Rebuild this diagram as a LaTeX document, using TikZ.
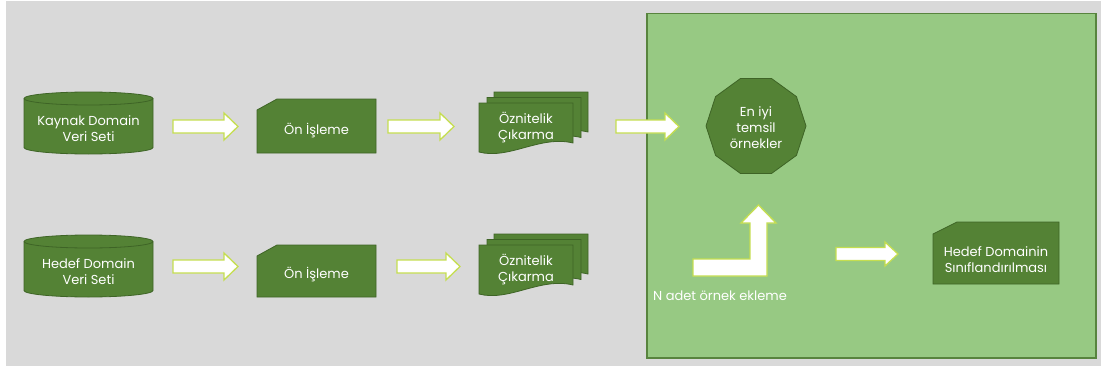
\documentclass[tikz,border=0pt]{standalone}
\usepackage{fontspec}
\setmainfont{Poppins}
\usetikzlibrary{calc,shapes.geometric}
\definecolor{panelgray}{RGB}{217,217,217}
\definecolor{panelgreen}{RGB}{151,201,131}
\definecolor{panelline}{RGB}{88,132,62}
\definecolor{boxgreen}{RGB}{84,130,53}
\definecolor{boxline}{RGB}{62,100,38}
\definecolor{arrowline}{RGB}{197,222,80}
\pgfdeclarelayer{bg}
\pgfsetlayers{bg,main}

% snipped-corner rectangle drawn around a holder node
\newcommand\snipbox[3]{%
  \draw[box] ($(#1.north west)+(0,#3)$) -- ($(#1.north west)+(#2,0)$) -- (#1.north east)
    -- (#1.south east) -- (#1.south west) -- cycle;}
% database drum around a holder node (#2 = half width)
\newcommand\drum[2]{%
  \draw[box] ($(#1.north west)+(0,6.5)$) -- ($(#1.south west)+(0,-6.5)$)
    arc[start angle=180,end angle=0,x radius=#2,y radius=6.5]
    -- ($(#1.north east)+(0,6.5)$)
    arc[start angle=360,end angle=180,x radius=#2,y radius=6.5] -- cycle;
  \draw[boxline,line width=0.8pt] ($(#1.north west)+(0,6.5)$)
    arc[start angle=180,end angle=0,x radius=#2,y radius=6.5];}
% one sheet with a wavy lower edge, top-left corner at coordinate #1
\newcommand\sheet[1]{%
  \draw[box] (#1) -- ($(#1)+(94,0)$) -- ($(#1)+(94,40)$)
    .. controls ($(#1)+(61,32)$) and ($(#1)+(30,57)$) .. ($(#1)+(0,49)$) -- cycle;}
% stack of three sheets behind holder node #1
\newcommand\sheetstack[1]{%
  \coordinate (#1-p3) at ($(#1.north west)+(15,-11)$);
  \coordinate (#1-p2) at ($(#1.north west)+(8,-5.5)$);
  \coordinate (#1-p1) at (#1.north west);
  \sheet{#1-p3}\sheet{#1-p2}\sheet{#1-p1}}
% white block arrow: start, tip, shaft half width, head half width, head length
\newcommand\blockarrow[5]{%
  \draw[barrow] ($(#1)+(0,-#3)$) -- ($(#2)+(-#5,-#3)$) -- ($(#2)+(-#5,-#4)$) -- (#2)
    -- ($(#2)+(-#5,#4)$) -- ($(#2)+(-#5,#3)$) -- ($(#1)+(0,#3)$) -- cycle;}

\begin{document}
\begin{tikzpicture}[x=1pt,y=-1pt,
  box/.style={fill=boxgreen,draw=boxline,line width=0.8pt,line join=miter},
  holder/.style 2 args={minimum width=#1,minimum height=#2,inner sep=0pt,outer sep=0pt},
  txt/.style={text=white,font=\fontsize{13pt}{16pt}\selectfont,align=center,inner sep=0pt},
  barrow/.style={fill=white,draw=arrowline,line width=1.3pt,line join=miter},
  panel/.style={fill=panelgreen,draw=panelline,line width=1.3pt,inner sep=0pt,
    minimum width=449pt,minimum height=344.5pt}]
\useasboundingbox (0,0) rectangle (1103,369);

% shape holders
\node[holder={129pt}{62pt}] (src1) at (88.5,123) {};
\node[holder={119pt}{54pt}] (pre1) at (316.5,126) {};
\node[holder={94pt}{49pt}] (feat1) at (526,127.5) {};
\node[holder={129pt}{62pt}] (src2) at (88.5,266) {};
\node[holder={119pt}{52pt}] (pre2) at (316.5,271) {};
\node[holder={94pt}{49pt}] (feat2) at (526,269.5) {};
\node[holder={126pt}{62pt}] (cls) at (996,253) {};

\begin{pgfonlayer}{bg}
  \fill[white] (0,0) rectangle (1103,369);
  \fill[panelgray] (6,1) rectangle (1101,366);
  \node[panel] (stage) at (871.5,185.75) {};
  \drum{src1}{64.5}
  \drum{src2}{64.5}
  \snipbox{pre1}{20}{11}
  \snipbox{pre2}{20}{11}
  \snipbox{cls}{24}{12}
  \sheetstack{feat1}
  \sheetstack{feat2}

  % flow arrows
  \coordinate (a1s) at (173,126.5); \coordinate (a1e) at (238,126.5);
  \coordinate (a2s) at (388,126.5); \coordinate (a2e) at (454,126.5);
  \coordinate (a3s) at (616,126.5); \coordinate (a3e) at (679,126.5);
  \coordinate (a4s) at (173,266.5); \coordinate (a4e) at (238,266.5);
  \coordinate (a5s) at (397,266.5); \coordinate (a5e) at (460,266.5);
  \coordinate (a6s) at (836,254);   \coordinate (a6e) at (898,254);
  \blockarrow{a1s}{a1e}{6.5}{13.5}{14}
  \blockarrow{a2s}{a2e}{6.5}{13.5}{14}
  \blockarrow{a3s}{a3e}{6.5}{13.5}{14}
  \blockarrow{a4s}{a4e}{6.5}{13.5}{14}
  \blockarrow{a5s}{a5e}{6.5}{13.5}{14}
  \blockarrow{a6s}{a6e}{6.5}{12}{13}

  % bent arrow turning upward
  \draw[barrow] (693,259) -- (750,259) -- (750,223) -- (741,223) -- (758.5,205)
    -- (776,223) -- (767,223) -- (767,276) -- (693,276) -- cycle;
\end{pgfonlayer}

\node[regular polygon,regular polygon sides=10,minimum size=100pt,box,inner sep=0pt]
  (best) at (756,126) {};
\node[txt] (best-t) at ($(best)+(0,2)$) {En iyi\\temsil\\örnekler};

\node[txt] (src1-t) at ($(src1)+(0,6)$) {Kaynak Domain\\Veri Seti};
\node[txt] (pre1-t) at ($(pre1)+(0,5)$) {Ön İşleme};
\node[txt] (feat1-t) at (feat1) {Öznitelik\\Çıkarma};
\node[txt] (src2-t) at ($(src2)+(0,6)$) {Hedef Domain\\Veri Seti};
\node[txt] (pre2-t) at ($(pre2)+(0,4)$) {Ön İşleme};
\node[txt] (feat2-t) at (feat2) {Öznitelik\\Çıkarma};
\node[txt] (cls-t) at ($(cls)+(0,7)$) {Hedef Domainin\\Sınıflandırılması};
\node[txt] (addn) at (720,296) {N adet örnek ekleme};
\end{tikzpicture}
\end{document}
